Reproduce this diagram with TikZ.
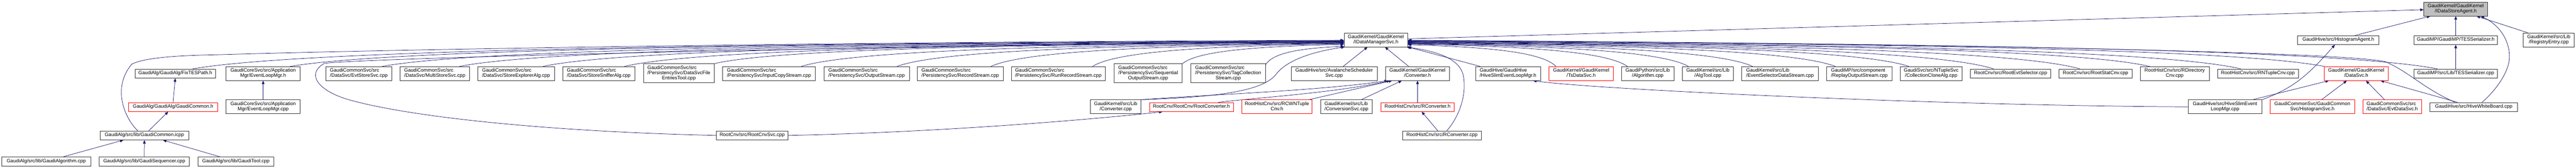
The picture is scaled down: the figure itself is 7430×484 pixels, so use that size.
\documentclass[tikz,border=0pt]{standalone}
\usepackage{fontspec}
\setmainfont{Liberation Sans}
\usetikzlibrary{arrows.meta,calc}
\definecolor{edgecol}{HTML}{191970}
\definecolor{rootfill}{HTML}{BFBFBF}
\newcommand\lbl{\fontsize{14.2pt}{15.3pt}\selectfont}
\newcommand\onel[1]{\begin{tabular}{@{}c@{}}#1\end{tabular}}
\newcommand\twol[2]{\begin{tabular}{@{}l@{}}#1\\\multicolumn{1}{@{}c@{}}{#2}\end{tabular}}
\newcommand\threel[3]{\begin{tabular}{@{}l@{}}#1\\#2\\\multicolumn{1}{@{}c@{}}{#3}\end{tabular}}
\newcommand\bundle[2]{\draw[edge] let \p1=#1, \p2=#2 in (\p1) .. controls ({0.9*(\x1)+0.1*(\x2)},{0.3*(\y1)+0.7*(\y2)}) and ({0.5*(\x1)+0.5*(\x2)},{0.1*(\y1)+0.9*(\y2)}) .. (\p2);}
\pgfdeclarelayer{bg}
\pgfsetlayers{bg,main}
\tikzset{
  box/.style={draw=black!80, line width=1pt, inner sep=0pt, fill=white, font=\lbl, anchor=center},
  redbox/.style={box, draw=red},
  rootbox/.style={box, fill=rootfill},
  one/.style={minimum height=26pt},
  two/.style={minimum height=40pt},
  three/.style={minimum height=55pt},
  edge/.style={draw=edgecol, line width=1.1pt, -{Triangle[length=10pt,width=8pt]}}
}
\begin{document}
\begin{tikzpicture}[x=1pt,y=-1pt]
\begin{pgfonlayer}{bg}
\fill[white] (0,0) rectangle (7430,484);
\end{pgfonlayer}
\useasboundingbox (0,0) rectangle (7430,484);
% row A
\node[rootbox,two,minimum width=184pt] (agent) at (7083,26) {\twol{GaudiKernel/GaudiKernel}{/IDataStoreAgent.h}};
% row B
\node[box,two,minimum width=183pt] (dms) at (3968.5,115) {\twol{GaudiKernel/GaudiKernel}{/IDataManagerSvc.h}};
\node[box,one,minimum width=235pt] (histagent) at (6744.5,115.5) {\onel{GaudiHive/src/HistogramAgent.h}};
\node[box,one,minimum width=240pt] (tesh) at (7083,115.5) {\onel{GaudiMP/GaudiMP/TESSerializer.h}};
\node[box,two,minimum width=147pt] (regentry) at (7351.5,115) {\twol{GaudiKernel/src/Lib}{/RegistryEntry.cpp}};
% row C
\node[box,one,minimum width=231pt] (fixtes) at (505.5,212) {\onel{GaudiAlg/GaudiAlg/FixTESPath.h}};
\node[box,two,minimum width=214pt] (elmh) at (759,212) {\twol{GaudiCoreSvc/src/Application}{Mgr/EventLoopMgr.h}};
\node[box,two,minimum width=190pt] (evtstore) at (1035,212) {\twol{GaudiCommonSvc/src}{/DataSvc/EvtStoreSvc.cpp}};
\node[box,two,minimum width=200pt] (multistore) at (1254,212) {\twol{GaudiCommonSvc/src}{/DataSvc/MultiStoreSvc.cpp}};
\node[box,two,minimum width=221pt] (explorer) at (1488.5,212) {\twol{GaudiCommonSvc/src}{/DataSvc/StoreExplorerAlg.cpp}};
\node[box,two,minimum width=208pt] (sniffer) at (1727,212) {\twol{GaudiCommonSvc/src}{/DataSvc/StoreSnifferAlg.cpp}};
\node[box,three,minimum width=204pt] (fileentries) at (1958,211.5) {\threel{GaudiCommonSvc/src}{/PersistencySvc/DataSvcFile}{EntriesTool.cpp}};
\node[box,two,minimum width=268pt] (inputcopy) at (2218,212) {\twol{GaudiCommonSvc/src}{/PersistencySvc/InputCopyStream.cpp}};
\node[box,two,minimum width=247pt] (output) at (2499.5,212) {\twol{GaudiCommonSvc/src}{/PersistencySvc/OutputStream.cpp}};
\node[box,two,minimum width=247pt] (record) at (2769.5,212) {\twol{GaudiCommonSvc/src}{/PersistencySvc/RecordStream.cpp}};
\node[box,two,minimum width=271pt] (runrecord) at (3052.5,212) {\twol{GaudiCommonSvc/src}{/PersistencySvc/RunRecordStream.cpp}};
\node[box,three,minimum width=197pt] (seqout) at (3311.5,211.5) {\threel{GaudiCommonSvc/src}{/PersistencySvc/Sequential}{OutputStream.cpp}};
\node[box,three,minimum width=215pt] (tagcoll) at (3542.5,211.5) {\threel{GaudiCommonSvc/src}{/PersistencySvc/TagCollection}{Stream.cpp}};
\node[box,two,minimum width=248pt] (avalanche) at (3848,212) {\twol{GaudiHive/src/AvalancheScheduler}{Svc.cpp}};
\node[box,two,minimum width=185pt] (converterh) at (4088.5,212) {\twol{GaudiKernel/GaudiKernel}{/Converter.h}};
\node[box,two,minimum width=187pt] (hiveslimh) at (4349.5,212) {\twol{GaudiHive/GaudiHive}{/HiveSlimEventLoopMgr.h}};
\node[redbox,two,minimum width=185pt] (tsdatasvc) at (4560.5,212) {\twol{GaudiKernel/GaudiKernel}{/TsDataSvc.h}};
\node[box,two,minimum width=151pt] (algorithm) at (4752.5,212) {\twol{GaudiPython/src/Lib}{/Algorithm.cpp}};
\node[box,two,minimum width=148pt] (algtool) at (4926,212) {\twol{GaudiKernel/src/Lib}{/AlgTool.cpp}};
\node[box,two,minimum width=222pt] (evtsel) at (5134,212) {\twol{GaudiKernel/src/Lib}{/EventSelectorDataStream.cpp}};
\node[box,two,minimum width=188pt] (replay) at (5363,212) {\twol{GaudiMP/src/component}{/ReplayOutputStream.cpp}};
\node[box,two,minimum width=178pt] (collclone) at (5570,212) {\twol{GaudiSvc/src/NTupleSvc}{/CollectionCloneAlg.cpp}};
\node[box,one,minimum width=232pt] (rootevtsel) at (5799,212) {\onel{RootCnv/src/RootEvtSelector.cpp}};
\node[box,one,minimum width=210pt] (rootstat) at (6044,212) {\onel{RootCnv/src/RootStatCnv.cpp}};
\node[box,two,minimum width=199pt] (rdircnv) at (6272.5,212) {\twol{RootHistCnv/src/RDirectory}{Cnv.cpp}};
\node[box,one,minimum width=233pt] (rntuple) at (6512.5,212) {\onel{RootHistCnv/src/RNTupleCnv.cpp}};
\node[redbox,two,minimum width=184pt] (datasvc) at (6796,212) {\twol{GaudiKernel/GaudiKernel}{/DataSvc.h}};
\node[box,one,minimum width=240pt] (tesscpp) at (7083,212) {\onel{GaudiMP/src/Lib/TESSerializer.cpp}};
% row D
\node[redbox,one,minimum width=257.5pt] (gcommonh) at (499.25,308.5) {\onel{GaudiAlg/GaudiAlg/GaudiCommon.h}};
\node[box,two,minimum width=214pt] (elmcpp) at (759,308) {\twol{GaudiCoreSvc/src/Application}{Mgr/EventLoopMgr.cpp}};
\node[box,two,minimum width=146pt] (convcpp) at (3218,308) {\twol{GaudiKernel/src/Lib}{/Converter.cpp}};
\node[redbox,one,minimum width=243pt] (rootconvh) at (3436.5,308.5) {\onel{RootCnv/RootCnv/RootConverter.h}};
\node[redbox,two,minimum width=202pt] (rcwntuple) at (3683,308) {\twol{RootHistCnv/src/RCWNTuple}{Cnv.h}};
\node[box,two,minimum width=149pt] (convsvc) at (3883.5,308) {\twol{GaudiKernel/src/Lib}{/ConversionSvc.cpp}};
\node[redbox,one,minimum width=211pt] (rconvh) at (4088.5,308.5) {\onel{RootHistCnv/src/RConverter.h}};
\node[box,two,minimum width=213pt] (hiveslimcpp) at (6417.5,308) {\twol{GaudiHive/src/HiveSlimEvent}{LoopMgr.cpp}};
\node[redbox,two,minimum width=243pt] (histsvc) at (6669.5,308) {\twol{GaudiCommonSvc/GaudiCommon}{Svc/HistogramSvc.h}};
\node[redbox,two,minimum width=170pt] (evtdatasvc) at (6900,308) {\twol{GaudiCommonSvc/src}{/DataSvc/EvtDataSvc.h}};
\node[box,one,minimum width=252pt] (hivewb) at (7135,308.5) {\onel{GaudiHive/src/HiveWhiteBoard.cpp}};
% row E
\node[box,one,minimum width=256pt] (icpp) at (416.5,390.5) {\onel{GaudiAlg/src/lib/GaudiCommon.icpp}};
\node[box,one,minimum width=207pt] (rootcnvsvc) at (2169.5,390.5) {\onel{RootCnv/src/RootCnvSvc.cpp}};
\node[box,one,minimum width=228pt] (rconvcpp) at (4159,390.5) {\onel{RootHistCnv/src/RConverter.cpp}};
% row F
\node[box,one,minimum width=257pt] (galg) at (133.4,465.5) {\onel{GaudiAlg/src/lib/GaudiAlgorithm.cpp}};
\node[box,one,minimum width=260pt] (gseq) at (416,465.5) {\onel{GaudiAlg/src/lib/GaudiSequencer.cpp}};
\node[box,one,minimum width=219pt] (gtool) at (680.5,465.5) {\onel{GaudiAlg/src/lib/GaudiTool.cpp}};

\begin{pgfonlayer}{bg}
% GaudiAlg group
\draw[edge] (gcommonh.north) -- (fixtes.south);
\draw[edge] ($(icpp.north)+(12.5,0)$) -- ($(gcommonh.south)+(-14,0)$);
\draw[edge] ($(galg.north)+(49,0)$) -- ($(icpp.south)+(-60.5,0)$);
\draw[edge] (gseq.north) -- (icpp.south);
\draw[edge] ($(gtool.north)+(-46.5,0)$) -- ($(icpp.south)+(53.5,0)$);
\draw[edge] (elmcpp.north) -- (elmh.south);
% custom curves into IDataManagerSvc
\draw[edge] ($(icpp.north)+(-19.5,0)$) .. controls (355,335) and (325,250) .. (380,185) .. controls (420,165) and (520,160) .. (620,158) .. controls (1300,138) and (2600,120) .. ($(dms.west)+(0,1)$);
\draw[edge] (rootcnvsvc.west) .. controls (1600,380) and (1200,340) .. (1015,290) .. controls (920,265) and (880,215) .. (935,183) .. controls (1000,170) and (2300,135) .. ($(dms.west)+(0,4)$);
\draw[edge] (convcpp.north east) .. controls (3500,280) and (3640,265) .. (3680,215) .. controls (3710,175) and (3780,150) .. ($(dms.south west)+(2,0)$);
\draw[edge] ($(rconvcpp.north)+(14,0)$) .. controls (4210,335) and (4232,270) .. (4220,215) .. controls (4205,160) and (4120,145) .. ($(dms.south east)+(-4,0)$);
% left bundle
\bundle{($(fixtes.north)+(50.5,0)$)}{($(dms.west)+(0,2)$)}
\bundle{($(elmh.north)+(78,0)$)}{($(dms.west)+(0,3)$)}
\bundle{($(evtstore.north)+(67,0)$)}{($(dms.west)+(0,4)$)}
\bundle{($(multistore.north)+(71,0)$)}{($(dms.west)+(0,5)$)}
\bundle{($(explorer.north)+(77.5,0)$)}{($(dms.west)+(0,6)$)}
\bundle{($(sniffer.north)+(74,0)$)}{($(dms.west)+(0,6)$)}
\bundle{(fileentries.north east)}{($(dms.west)+(0,7)$)}
\bundle{($(inputcopy.north)+(93,0)$)}{($(dms.west)+(0,8)$)}
\bundle{($(output.north)+(87.5,0)$)}{($(dms.west)+(0,9)$)}
\bundle{($(record.north)+(88.5,0)$)}{($(dms.west)+(0,10)$)}
\bundle{($(runrecord.north)+(98.5,0)$)}{($(dms.west)+(0,11)$)}
\bundle{(seqout.north east)}{($(dms.west)+(0,13)$)}
\bundle{($(tagcoll.north east)+(0,3)$)}{($(dms.south west)+(0,-2)$)}
% Converter.h group
\draw[edge] (convcpp.north east) .. controls (3500,272) and (3800,262) .. ($(converterh.south west)+(8,0)$);
\draw[edge] ($(rootconvh.north)+(78,0)$) .. controls (3620,282) and (3850,268) .. ($(converterh.south west)+(14,0)$);
\draw[edge] ($(rcwntuple.north)+(92,0)$) -- ($(converterh.south west)+(20,0)$);
\draw[edge] ($(convsvc.north)+(42.5,0)$) -- ($(converterh.south)+(-45,0)$);
\draw[edge] (rconvh.north) -- (converterh.south);
\draw[edge] ($(rconvcpp.north)+(-12,0)$) -- ($(rconvh.south)+(12,0)$);
\draw[edge] (rootcnvsvc.east) .. controls (2700,382) and (3150,345) .. ($(rootconvh.south)+(-83,0)$);
% direct into IDataManagerSvc bottom
\draw[edge] ($(avalanche.north)+(26,0)$) -- ($(dms.south)+(-24,0)$);
\draw[edge] ($(converterh.north)+(-25.5,0)$) -- ($(dms.south)+(26,0)$);
\draw[edge] ($(hiveslimh.north)+(-80,0)$) -- (dms.south east);
% IDataManagerSvc -> IDataStoreAgent
\draw[edge] ($(dms.east)+(0,-3)$) -- ($(agent.west)+(0,2)$);
% right bundle
\bundle{($(tsdatasvc.north)+(-72.5,0)$)}{($(dms.east)+(0,14)$)}
\bundle{($(algorithm.north)+(-58.5,0)$)}{($(dms.east)+(0,12)$)}
\bundle{($(algtool.north)+(-56,0)$)}{($(dms.east)+(0,11)$)}
\bundle{($(evtsel.north)+(-79,0)$)}{($(dms.east)+(0,10)$)}
\bundle{($(replay.north)+(-69,0)$)}{($(dms.east)+(0,9)$)}
\bundle{($(collclone.north)+(-64,0)$)}{($(dms.east)+(0,8)$)}
\bundle{($(rootevtsel.north)+(-49,0)$)}{($(dms.east)+(0,7)$)}
\bundle{($(rootstat.north)+(-45,0)$)}{($(dms.east)+(0,6)$)}
\bundle{($(rdircnv.north)+(-72.5,0)$)}{($(dms.east)+(0,5)$)}
\bundle{($(rntuple.north)+(-49.5,0)$)}{($(dms.east)+(0,4)$)}
\bundle{(datasvc.north west)}{($(dms.east)+(0,3)$)}
\bundle{($(tesscpp.north)+(-53,0)$)}{($(dms.east)+(0,2)$)}
\draw[edge] ($(hivewb.north)+(-54,0)$) .. controls (6990,255) and (6945,205) .. (6880,178) .. controls (6750,148) and (5500,125) .. ($(dms.east)+(0,1)$);
% HiveSlimEventLoopMgr
\draw[edge] (hiveslimcpp.west) .. controls (5600,305) and (4600,258) .. ($(hiveslimh.south)+(72,0)$);
\draw[edge] (hiveslimcpp.north east) .. controls (6610,255) and (6650,225) .. ($(histagent.south)+(-10,0)$);
\draw[edge] ($(hiveslimcpp.north)+(79.5,0)$) -- ($(datasvc.south west)+(14,0)$);
% DataSvc.h group
\draw[edge] ($(histsvc.north)+(26.5,0)$) -- ($(datasvc.south)+(-27,0)$);
\draw[edge] ($(evtdatasvc.north)+(-22,0)$) -- ($(datasvc.south)+(28,0)$);
\draw[edge] ($(hivewb.north)+(-47,0)$) -- ($(datasvc.south)+(70,0)$);
% IDataStoreAgent group
\draw[edge] ($(histagent.north)+(48.5,0)$) -- ($(agent.south)+(-73,0)$);
\draw[edge] (tesh.north) -- (agent.south);
\draw[edge] (tesscpp.north) -- (tesh.south);
\draw[edge] ($(regentry.north)+(-60.5,0)$) -- ($(agent.south)+(60,0)$);
\draw[edge] ($(hivewb.north)+(24,0)$) .. controls (7205,255) and (7240,200) .. (7238,160) .. controls (7236,110) and (7205,70) .. ($(agent.south)+(72,0)$);
\end{pgfonlayer}
\end{tikzpicture}
\end{document}
